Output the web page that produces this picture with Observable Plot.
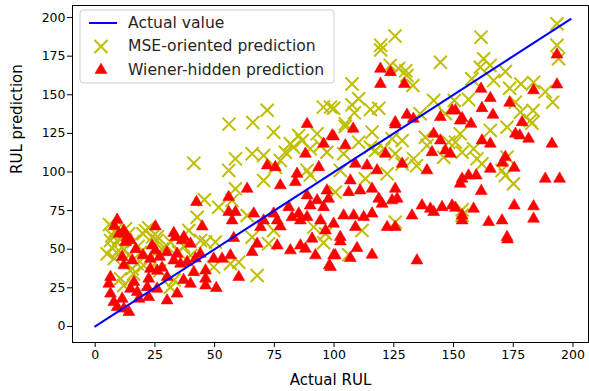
<!DOCTYPE html>
<html>
<head>
<meta charset="utf-8">
<script src="https://cdn.jsdelivr.net/npm/d3@7"></script>
<script src="https://cdn.jsdelivr.net/npm/@observablehq/plot@0.6"></script>
<style>
  body { margin: 0; background: white; }
  #chart { width: 589px; height: 391px; }
</style>
</head>
<body>
<div id="chart"></div>
<script>
// Reference line: prediction equal to the actual RUL
const lineActual = [0, 199];
const linePred = [0, 199];

// MSE-oriented prediction (actual RUL, predicted RUL)
const mseActual = [72, 56, 66, 95.5, 98.5, 125.5, 119.5, 119.5, 123.5, 127, 130, 130.5, 133, 144.5, 107.5, 110.3, 107.5, 108.5, 115.2, 118.7, 99.8, 141.7, 104.7, 136, 146.6,
  193.3, 193.3, 194, 161.5, 162.6, 161.2, 165.3, 157.7, 166.8, 171.7, 173.5, 178.2, 183.5, 188.4, 191.5, 156.3, 175.9, 178, 183.3, 182.1, 150.3,
  41.3, 45.7, 42.7, 12.7, 8.5, 22.4, 39.2, 7.1,
  74.7, 85.2, 92.9, 81.7, 83, 79.6, 86.6, 90, 94.3, 97, 65.7, 70.5, 58.7, 55.9, 77.5, 75.4, 70.5, 58.7, 88.7, 90, 51.7, 57.3, 63.6, 74.7, 91.5, 96.4,
  104.7, 115.9, 104, 110.3, 115.2, 117.3, 120.8, 124.3, 128.5, 125.6, 128.5, 133.3, 134.5, 102.6, 113.1, 122.2, 138.2, 138.9, 148, 145.9, 111.7, 125.6, 100.5,
  172.4, 182.8, 165.4, 152.8, 150.8, 153.6, 158.4, 159.8, 161.9, 170.3, 171.7, 175.1, 172.4, 153.6, 153.6,
  50.3, 65.7, 72.6, 95.6, 56.6, 60.1, 49.6, 67.8, 106.1,
  6.4, 9.9, 25.9, 20.3, 15.5, 17.6, 10.6, 12, 31.5, 44.1, 46.2, 31.5,
  5, 8, 12, 18, 28, 35, 40, 16, 27, 33, 10, 14, 20, 24, 37,
  6, 9, 11, 7, 14, 16, 19, 21, 26, 30, 23];
const msePred = [140, 131, 132, 142, 142, 188, 182, 179, 169, 167, 165.5, 162.5, 156, 171, 157, 147.4, 143.5, 138.3, 140.5, 141.3, 141.3, 146.3, 131.2, 137.7, 137.7,
  196, 182, 173.3, 187.3, 173.3, 167.8, 169, 160.3, 159.2, 165, 154.2, 157, 158, 152, 145.2, 147, 145.2, 138.7, 139.8, 133.3, 146.3,
  105.7, 82, 70.7, 63.2, 62.1, 63.9, 62.1, 58.9,
  125.8, 123.6, 124.7, 118.3, 116, 112.8, 120.4, 115, 117.2, 112.8, 111.8, 110.7, 108.5, 101, 107.4, 103.1, 94.5, 89.1, 101, 98, 77.2, 81.6, 71.8, 62.1, 64.3, 60,
  129.4, 125.8, 111.8, 119.3, 116, 113.9, 115, 121.5, 120.4, 111.8, 105.3, 108.5, 104, 101, 95.6, 98.8, 122.5, 117.2, 119.3, 109.6, 62.1, 67.5, 86.9,
  129, 131.6, 126.9, 124.7, 119.3, 112.8, 115, 108.5, 105.3, 101, 97.7, 92.4, 109.6, 75.5, 72,
  54.6, 57.8, 53.5, 54.2, 40.6, 41.6, 38.4, 33, 46.4,
  55.7, 49.2, 55.7, 39.5, 37.3, 40.6, 30.9, 26.5, 54.6, 55.7, 54.6, 25.4,
  47, 44, 50, 52, 50, 48, 46, 34, 36, 30, 57, 46, 60, 58, 52,
  66, 60, 57, 51, 60, 55, 48, 62, 58, 52, 44];

// Wiener-hidden prediction (actual RUL, predicted RUL)
const wienerActual = [88.7, 119.4, 123.6, 119.4, 129.4, 125.6, 130.5, 133.2, 144.5, 149.4,
  193.3, 193.3, 161.5, 165.4, 161.9, 173.5, 166.5, 183.5, 150.8, 153.6, 178.7, 157.3,
  42.4, 9.2, 44.8, 25.2, 13.4, 32.9, 37.1,
  99.2, 95.6, 88, 72, 75.4, 84.5, 83.8, 77.5, 93.6, 63.6, 55.9, 97, 88.7, 92.9, 97.7, 81, 85.2, 90, 95.6, 88.7, 94.3, 96.4, 55.9, 58.7, 57.3, 66.4, 70.5, 69.2, 74.7, 76.2, 77.5, 82.4, 85.9,
  108, 99.8, 125.6, 104.7, 121.5, 128.5, 138.9, 108.9, 113.8, 118, 106.8, 141.7, 144.5, 146.6, 148.7, 141, 106.1, 110.9, 115.9, 118.7, 124.3, 125.6, 126.4, 120.1, 136.8, 140.3, 145.2, 149.4, 141.7, 132.6, 104, 108.2, 112.4, 115.9, 99.8, 108.9, 122.2, 125.6, 102.6,
  152.8, 161.9, 165.4, 175.9, 177.7, 181.4, 191.2, 171.7, 170.5, 165.4, 175.4, 153.6, 156.3, 159.5, 152.8, 161.6, 188.4, 194.4, 150.8, 158.4, 175.4, 183.5, 153.6, 153.6, 164.7, 170.3, 183.5, 172.4,
  58, 67.8, 76.2, 65.7, 81.7, 85.9, 88, 90.8, 92.2, 98, 99.8, 49.6, 53.1, 56.6, 60.1, 50.7,
  102.6, 100.5, 109.6, 106.8, 115.9, 134.7, 98.5, 172.6,
  12.7, 14.8, 23.8, 25.2, 23.1, 23.1, 22.4, 21.8, 22.4, 15.5, 11.3, 12, 6.4, 5.7, 6.4, 7.8, 9.2, 12, 14.1, 11.3, 14.8, 16.2, 17.6, 18.3,
  33.6, 36.4, 39.9, 34.3, 32.9, 35.7, 38.5, 41.3, 46.2, 46.2, 46.2, 39.9, 30.1, 30.1, 25.9, 34.3,
  8, 10, 12, 17, 20, 27, 30, 42, 44, 28, 37, 26];
const wienerPred = [131, 166.8, 164.6, 157, 157, 132.2, 137, 134.4, 135.5, 139.8,
  176, 156.6, 153.8, 147.8, 141.3, 144.8, 137, 152.8, 139.8, 134.8, 132.2, 131.2,
  80.5, 69, 64.7, 64.7, 57.8, 60.4, 57.8,
  123.6, 118.3, 111.8, 104.2, 103.1, 98.8, 93.4, 91.3, 103.1, 89.1, 83.7, 88, 84.8, 81.6, 82.7, 77.2, 73, 78.3, 77.2, 70.8, 68.6, 62.1, 74, 74, 68.6, 73, 68.6, 64.3, 73, 68.6, 64.7, 70.7, 68.6,
  128, 123, 130.7, 117.2, 111.8, 105.3, 101, 105.3, 104.2, 101, 94.5, 124.7, 120.4, 113.9, 111.8, 112.8, 86.9, 88, 89.1, 82.7, 81.6, 89.1, 82.7, 79.4, 78.3, 76.2, 77.2, 78.3, 74, 71.8, 71.8, 71.8, 70.8, 73, 66.5, 64.3, 64.3, 64.3, 57.8,
  133.3, 120.4, 118.3, 124.7, 123.6, 121.5, 118.3, 109.6, 106, 102, 102.7, 95.6, 97.7, 97.7, 92.4, 87.6, 95.6, 95.6, 76.8, 76.2, 78.3, 77.7, 71.8, 68.6, 67.5, 68.6, 69.7, 57.8,
  57.2, 53.5, 52.4, 48.1, 49.2, 52.4, 50.3, 56.8, 46, 39.5, 46, 43.8, 43.8, 46, 31.9, 24.8,
  55, 46, 50.7, 44.2, 46.4, 42.7, 38.4, 56.3,
  54.6, 55.7, 52.4, 49.2, 43.8, 37.3, 30.9, 25.4, 19, 42.7, 44.9, 39.5, 31.9, 27.6, 21.2, 15.7, 12.5, 11.5, 9.3, 17.9, 24.4, 28.7, 22.2, 17.9,
  57.8, 55.7, 53.5, 47, 42.7, 40.6, 41.6, 35.1, 36.2, 30.9, 26.5, 27.6, 31.9, 16.8, 24.4, 21.2,
  65, 60, 62, 50, 46, 45, 48, 44, 47, 38, 30, 36];

const ticks = [0, 25, 50, 75, 100, 125, 150, 175, 200];
const xLabel = ["Actual RUL"];
const yLabel = ["RUL prediction"];
const legendItems = ["Actual value", "MSE-oriented prediction", "Wiener-hidden prediction"];

const zip = (xs, ys) => xs.map((x, i) => ({x, y: ys[i]}));
const mse = zip(mseActual, msePred);
const wiener = zip(wienerActual, wienerPred);
const ideal = zip(lineActual, linePred);

const XCOLOR = "#bfbf00", TRICOLOR = "#ff0000", LINECOLOR = "#0000ff";

const svg = Plot.plot({
  width: 589,
  height: 391,
  marginLeft: 72,
  marginRight: 1,
  marginTop: 5,
  marginBottom: 49,
  style: {fontFamily: "DejaVu Sans", fontSize: "12.5px", background: "white", color: "black", overflow: "visible"},
  x: {domain: [-9.5, 206.5]},
  y: {domain: [-10.4, 207.8]},
  marks: [
    Plot.axisX({ticks, tickSize: 5, tickPadding: 3, label: null, fontSize: 12.5}),
    Plot.axisY({ticks, tickSize: 5, tickPadding: 2, label: null, fontSize: 12.5}),
    Plot.dot(mse, {x: "x", y: "y", symbol: "times", r: 6, stroke: XCOLOR, strokeWidth: 2}),
    Plot.dot(wiener, {x: "x", y: "y", symbol: "triangle", r: 4.4, fill: TRICOLOR, stroke: TRICOLOR, strokeWidth: 0.6}),
    Plot.line(ideal, {x: "x", y: "y", stroke: LINECOLOR, strokeWidth: 2}),
    Plot.frame({stroke: "black", strokeWidth: 1}),
    Plot.text(xLabel, {text: d => d, frameAnchor: "bottom", lineAnchor: "middle", dy: 38, fontSize: 15}),
    Plot.text(yLabel, {text: d => d, frameAnchor: "left", lineAnchor: "middle", dx: -55, rotate: -90, fontSize: 15})
  ]
});

// Legend box in the upper-left corner of the axes
const lg = d3.select(svg).append("g")
  .attr("font-family", "DejaVu Sans").attr("font-size", 15.6).attr("text-anchor", "start");
lg.append("rect").attr("x", 80).attr("y", 10).attr("width", 254).attr("height", 73).attr("rx", 3)
  .attr("fill", "white").attr("fill-opacity", 0.8).attr("stroke", "#cccccc");
lg.append("line").attr("x1", 89).attr("x2", 117).attr("y1", 23).attr("y2", 23)
  .attr("stroke", LINECOLOR).attr("stroke-width", 2);
lg.append("path").attr("transform", "translate(101,46.5)")
  .attr("d", d3.symbol(d3.symbolTimes, Math.PI * 36)()).attr("stroke", XCOLOR).attr("stroke-width", 2).attr("fill", "none");
lg.append("path").attr("transform", "translate(101,70)")
  .attr("d", d3.symbol(d3.symbolTriangle, Math.PI * 4.4 * 4.4)()).attr("fill", TRICOLOR).attr("stroke", TRICOLOR).attr("stroke-width", 0.6);
lg.selectAll("text.item").data(legendItems).join("text").attr("class", "item")
  .attr("x", 128).attr("y", (d, i) => 23 + i * 23.3).attr("dominant-baseline", "central")
  .attr("text-anchor", "start").attr("fill", "#262626").text(d => d);

document.getElementById("chart").appendChild(svg);
</script>
</body>
</html>
